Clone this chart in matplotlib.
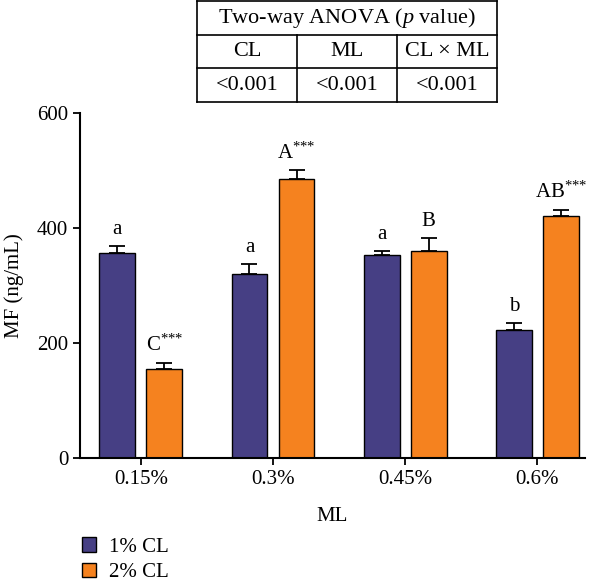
import numpy as np
import matplotlib.pyplot as plt
from matplotlib.patches import Patch

plt.rcParams['font.family'] = ['Liberation Serif', 'DejaVu Serif']
plt.rcParams['mathtext.fontset'] = 'custom'
plt.rcParams['mathtext.rm'] = 'Liberation Serif'
plt.rcParams['mathtext.it'] = 'Liberation Serif:italic'

ml_levels = ["0.15%", "0.3%", "0.45%", "0.6%"]
cl1_mean = [357, 320, 353, 222]
cl1_err = [12, 17, 7, 12]
cl2_mean = [154, 485, 360, 421]
cl2_err = [11, 15, 22, 10]
cl1_labels = ["a", "a", "a", "b"]
cl2_labels = ["C$^{{*}{*}{*}}$", "A$^{{*}{*}{*}}$", "B", "AB$^{{*}{*}{*}}$"]
series_names = ["1% CL", "2% CL"]

anova_cols = ["CL", "ML", "CL × ML"]
anova_p = ["<0.001", "<0.001", "<0.001"]

purple = "#463F84"
orange = "#F5821F"
fs = 15
fs_tab = 16

fig = plt.figure(figsize=(6, 5.87), dpi=100)
ax = fig.add_axes([0.1333, 0.2198, 0.8417, 0.5877])

x = np.arange(len(ml_levels))
off = 0.178
w = 0.27
ax.bar(x - off, cl1_mean, w, color=purple, edgecolor="black", linewidth=1)
ax.bar(x + off, cl2_mean, w, color=orange, edgecolor="black", linewidth=1)
ax.errorbar(x - off, cl1_mean, yerr=[np.zeros(4), cl1_err], fmt="none",
            ecolor="black", elinewidth=1.3, capsize=6, capthick=1.3)
ax.errorbar(x + off, cl2_mean, yerr=[np.zeros(4), cl2_err], fmt="none",
            ecolor="black", elinewidth=1.3, capsize=6, capthick=1.3)

for i in range(len(ml_levels)):
    ax.annotate(cl1_labels[i], (x[i] - off, cl1_mean[i] + cl1_err[i]),
                xytext=(0, 5), textcoords="offset points", ha="center",
                va="bottom", fontsize=fs)
    ax.annotate(cl2_labels[i], (x[i] + off, cl2_mean[i] + cl2_err[i]),
                xytext=(0, 5), textcoords="offset points", ha="center",
                va="bottom", fontsize=fs)

ax.set_xlim(-0.46, 3.36)
ax.set_ylim(0, 600)
ax.set_yticks([0, 200, 400, 600])
ax.set_xticks(x)
ax.set_xticklabels(ml_levels)
ax.tick_params(labelsize=fs, width=1.3, length=5)
ax.spines["top"].set_visible(False)
ax.spines["right"].set_visible(False)
ax.spines["left"].set_linewidth(1.5)
ax.spines["bottom"].set_linewidth(1.5)
ax.set_xlabel("ML", fontsize=fs, labelpad=13)
ax.set_ylabel("MF (ng/mL)", fontsize=fs, labelpad=9)

# ANOVA table
tab = fig.add_axes([197 / 600, 1 - 102 / 587, 300 / 600, 101 / 587])
tab.set_xlim(0, 3)
tab.set_ylim(0, 3)
tab.axis("off")
lw = 1.2
for yy in [0, 1, 2, 3]:
    tab.plot([0, 3], [yy, yy], color="black", lw=lw, clip_on=False)
tab.plot([0, 0], [0, 3], color="black", lw=lw, clip_on=False)
tab.plot([3, 3], [0, 3], color="black", lw=lw, clip_on=False)
for xx in [1, 2]:
    tab.plot([xx, xx], [0, 2], color="black", lw=lw, clip_on=False)
tab.text(1.5, 2.5, "Two-way ANOVA ($\\it{p}$ value)", ha="center",
         va="center", fontsize=fs_tab)
for j in range(3):
    tab.text(j + 0.5, 1.5, anova_cols[j], ha="center", va="center",
             fontsize=fs_tab)
    tab.text(j + 0.5, 0.5, anova_p[j], ha="center", va="center",
             fontsize=fs_tab)

handles = [Patch(facecolor=purple, edgecolor="black"),
           Patch(facecolor=orange, edgecolor="black")]
fig.legend(handles, series_names, loc="lower left",
           bbox_to_anchor=(0.105, -0.024), frameon=False, fontsize=fs,
           handlelength=0.7, handleheight=0.7, handletextpad=0.6,
           labelspacing=0.3)

fig.savefig("out.png", dpi=100)
